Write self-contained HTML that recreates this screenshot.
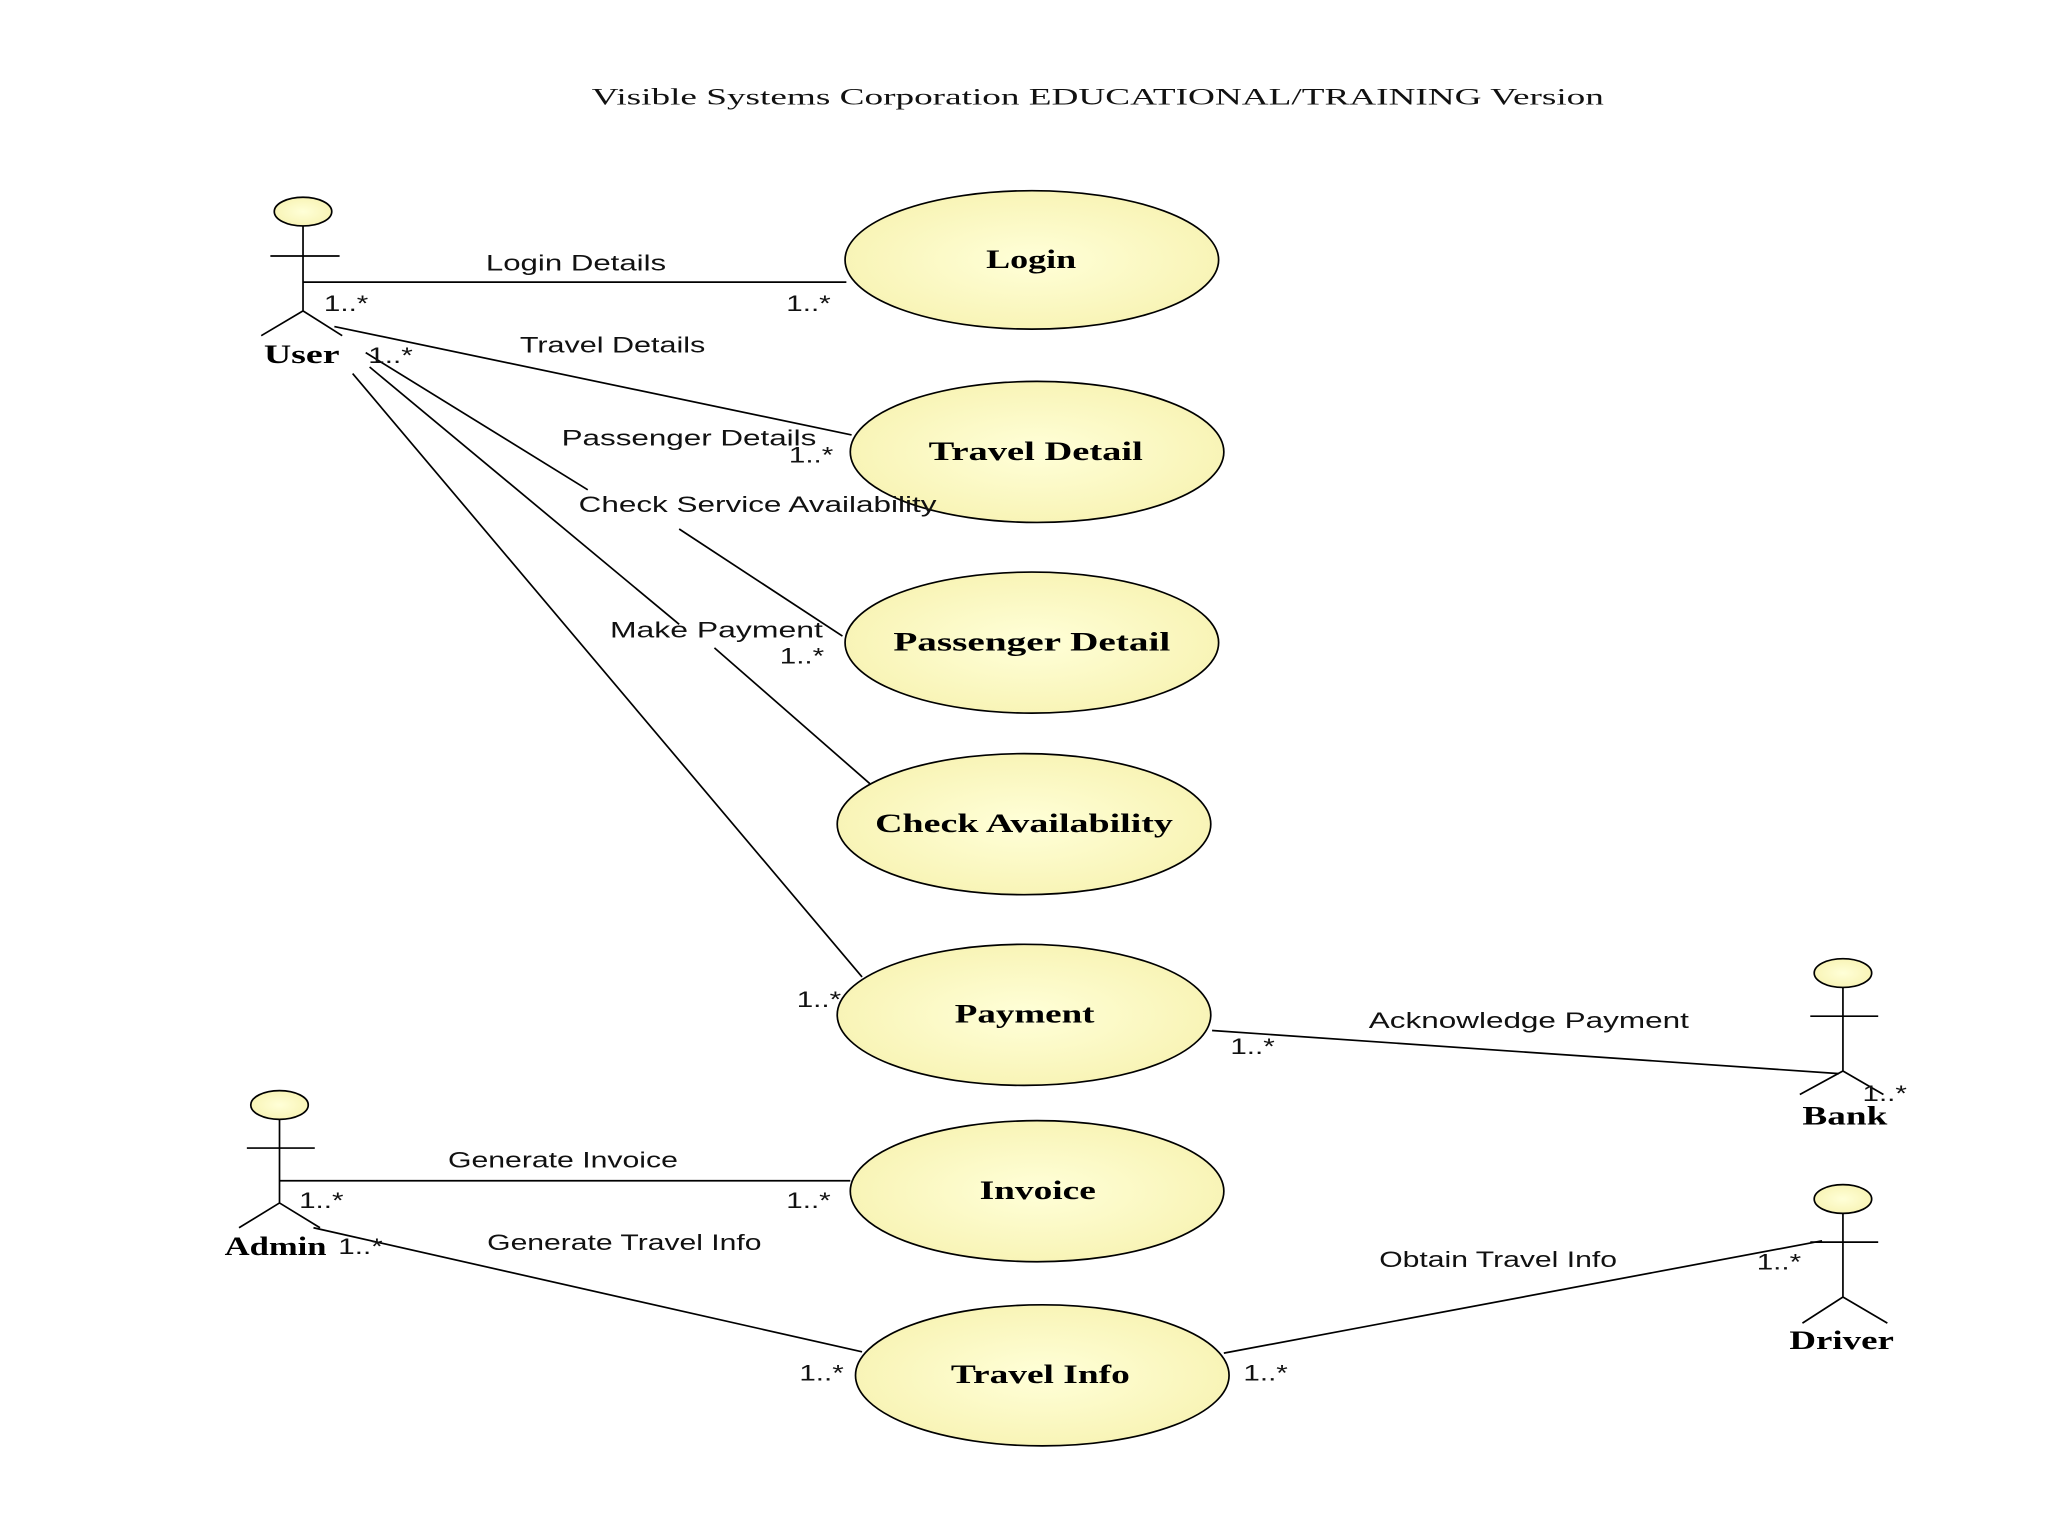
<!DOCTYPE html>
<html><head><meta charset="utf-8"><style>
html,body{margin:0;padding:0;background:#fff;}
svg{display:block;}
.l{font-family:"Liberation Sans",sans-serif;font-size:17px;fill:#111}
.n{font-family:"Liberation Serif",serif;font-size:20px;font-weight:bold;fill:#000}
</style></head><body>
<svg width="2048" height="1536" viewBox="0 0 1568 1176" xmlns="http://www.w3.org/2000/svg">
<defs>
<radialGradient id="g" cx="50%" cy="50%" r="60%"><stop offset="0" stop-color="#ffffd8"/><stop offset="1" stop-color="#f7f2b0"/></radialGradient>
</defs>
<rect width="1568" height="1176" fill="#fff"/>
<text x="453" y="80" textLength="775" lengthAdjust="spacingAndGlyphs" font-family="Liberation Serif,serif" font-size="18" fill="#111">Visible Systems Corporation EDUCATIONAL/TRAINING Version</text>
<g stroke="#000" stroke-width="1.3" fill="none">
<line x1="232" y1="216" x2="648" y2="216"/>
<line x1="256" y1="250" x2="652" y2="333"/>
<line x1="280" y1="270" x2="450" y2="375"/>
<line x1="520" y1="405" x2="645" y2="487"/>
<line x1="283" y1="281" x2="520" y2="478"/>
<line x1="547" y1="496" x2="666" y2="600"/>
<line x1="270" y1="286" x2="660" y2="748"/>
<line x1="928" y1="789" x2="1408" y2="822"/>
<line x1="214" y1="904" x2="651" y2="904"/>
<line x1="240" y1="940" x2="660" y2="1035"/>
<line x1="937" y1="1036" x2="1395" y2="950"/>
</g>
<g fill="url(#g)" stroke="#000" stroke-width="1.3">
<ellipse cx="790" cy="199" rx="143" ry="53"/>
<ellipse cx="794" cy="346" rx="143" ry="54"/>
<ellipse cx="790" cy="492" rx="143" ry="54"/>
<ellipse cx="784" cy="631" rx="143" ry="54"/>
<ellipse cx="784" cy="777" rx="143" ry="54"/>
<ellipse cx="794" cy="912" rx="143" ry="54"/>
<ellipse cx="798" cy="1053" rx="143" ry="54"/>
<ellipse cx="232" cy="162" rx="22" ry="11"/>
<ellipse cx="1411" cy="745" rx="22" ry="11"/>
<ellipse cx="1411" cy="918" rx="22" ry="11"/>
<ellipse cx="214" cy="846" rx="22" ry="11"/>
</g>
<g stroke="#000" stroke-width="1.3" fill="none">
<path d="M232 173V238M207 196H260M200 257L232 238L262 257"/>
<path d="M1411 756V820M1386 778H1438M1378 838L1411 820L1442 838"/>
<path d="M1411 929V993M1386 951H1438M1380 1013L1411 993L1445 1013"/>
<path d="M214 857V921M189 879H241M183 940L214 921L245 940"/>
</g>
<g class="n">
<text x="202" y="278" textLength="58" lengthAdjust="spacingAndGlyphs">User</text>
<text x="1380" y="861" textLength="65" lengthAdjust="spacingAndGlyphs">Bank</text>
<text x="1370" y="1033" textLength="80" lengthAdjust="spacingAndGlyphs">Driver</text>
<text x="172" y="961" textLength="78" lengthAdjust="spacingAndGlyphs">Admin</text>
<text x="755" y="205" textLength="69" lengthAdjust="spacingAndGlyphs">Login</text>
<text x="711" y="352" textLength="164" lengthAdjust="spacingAndGlyphs">Travel Detail</text>
<text x="684" y="498" textLength="212" lengthAdjust="spacingAndGlyphs">Passenger Detail</text>
<text x="670" y="637" textLength="228" lengthAdjust="spacingAndGlyphs">Check Availability</text>
<text x="731" y="783" textLength="107" lengthAdjust="spacingAndGlyphs">Payment</text>
<text x="750" y="918" textLength="89" lengthAdjust="spacingAndGlyphs">Invoice</text>
<text x="728" y="1059" textLength="137" lengthAdjust="spacingAndGlyphs">Travel Info</text>
</g>
<g class="l">
<text x="372" y="207" textLength="138" lengthAdjust="spacingAndGlyphs">Login Details</text>
<text x="398" y="270" textLength="142" lengthAdjust="spacingAndGlyphs">Travel Details</text>
<text x="430" y="341" textLength="195" lengthAdjust="spacingAndGlyphs">Passenger Details</text>
<text x="443" y="392" textLength="274" lengthAdjust="spacingAndGlyphs">Check Service Availability</text>
<text x="467" y="488" textLength="163" lengthAdjust="spacingAndGlyphs">Make Payment</text>
<text x="1048" y="787" textLength="245" lengthAdjust="spacingAndGlyphs">Acknowledge Payment</text>
<text x="343" y="894" textLength="176" lengthAdjust="spacingAndGlyphs">Generate Invoice</text>
<text x="373" y="957" textLength="210" lengthAdjust="spacingAndGlyphs">Generate Travel Info</text>
<text x="1056" y="970" textLength="182" lengthAdjust="spacingAndGlyphs">Obtain Travel Info</text>
<text x="248" y="238" textLength="34" lengthAdjust="spacingAndGlyphs">1..*</text>
<text x="602" y="238" textLength="34" lengthAdjust="spacingAndGlyphs">1..*</text>
<text x="282" y="278" textLength="34" lengthAdjust="spacingAndGlyphs">1..*</text>
<text x="604" y="354" textLength="34" lengthAdjust="spacingAndGlyphs">1..*</text>
<text x="597" y="508" textLength="34" lengthAdjust="spacingAndGlyphs">1..*</text>
<text x="610" y="771" textLength="34" lengthAdjust="spacingAndGlyphs">1..*</text>
<text x="942" y="807" textLength="34" lengthAdjust="spacingAndGlyphs">1..*</text>
<text x="1426" y="843" textLength="34" lengthAdjust="spacingAndGlyphs">1..*</text>
<text x="229" y="925" textLength="34" lengthAdjust="spacingAndGlyphs">1..*</text>
<text x="602" y="925" textLength="34" lengthAdjust="spacingAndGlyphs">1..*</text>
<text x="259" y="960" textLength="34" lengthAdjust="spacingAndGlyphs">1..*</text>
<text x="612" y="1057" textLength="34" lengthAdjust="spacingAndGlyphs">1..*</text>
<text x="952" y="1057" textLength="34" lengthAdjust="spacingAndGlyphs">1..*</text>
<text x="1345" y="972" textLength="34" lengthAdjust="spacingAndGlyphs">1..*</text>
</g>
</svg>
</body></html>
